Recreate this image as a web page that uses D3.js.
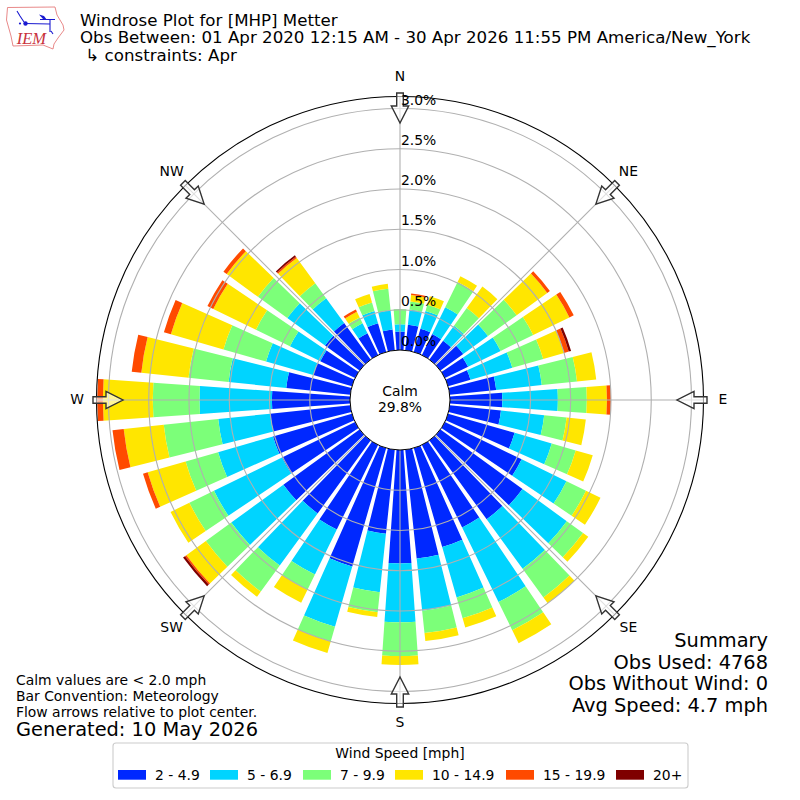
<!DOCTYPE html>
<html>
<head>
<meta charset="utf-8">
<style>
  html, body { margin: 0; padding: 0; background: #fff; }
  text { font-family: "DejaVu Sans", sans-serif; fill: #000; }
</style>
</head>
<body>
<div id="chart"></div>
<script src="https://cdn.jsdelivr.net/npm/d3@7"></script>
<script>
// percent of obs per direction, one list per speed bin
const directions = [10, 20, 30, 40, 50, 60, 70, 80, 90, 100, 110, 120, 130, 140, 150, 160, 170, 180,
  190, 200, 210, 220, 230, 240, 250, 260, 270, 280, 290, 300, 310, 320, 330, 340, 350, 360];
const bin2to5 = [.32, .30, .29, .29, .35, .32, .29, .58, .65, .64, .86, 1.06, 1.26, 1.21, 1.14, 1.28, 1.36, 1.41,
  1.05, 1.53, 1.17, 1.12, 1.17, 1.01, 1.02, 1.00, .97, .80, .50, .48, .53, .56, .30, .37, .26, .23];
const bin5to7 = [.19, .23, .37, .23, .38, .45, .54, .57, .69, .54, .48, .62, .68, .76, 1.03, .65, .65, .73,
  .73, .78, .62, .80, .80, .94, .71, .65, .90, .72, .61, .42, .58, .38, .14, .16, .24, .09];
const bin7to10 = [.10, .08, .35, .27, .44, .45, .40, .44, .36, .28, .31, .27, .25, .44, .39, .27, .28, .42,
  .25, .19, .21, .40, .39, .34, .42, .68, .58, .50, .55, .47, .45, .23, .08, .11, .27, .19];
const bin10to15 = [.08, .11, .08, .33, .47, .50, .27, .24, .25, .24, .22, .20, .08, .09, .18, .12, .10, .11,
  .06, .15, .18, .08, .30, .26, .49, .50, .62, .59, .68, .59, .48, .39, .08, .11, .06, 0];
const bin15to20 = [.02, 0, 0, 0, .04, .06, .06, 0, .05, 0, 0, 0, 0, 0, 0, 0, 0, 0,
  0, 0, 0, 0, .02, 0, .06, .14, .07, .12, .09, .08, .05, .02, .03, 0, 0, 0];
const bin20up = [0, 0, 0, 0, 0, 0, .03, 0, 0, 0, 0, 0, 0, 0, 0, 0, 0, 0,
  0, 0, 0, 0, .03, 0, 0, 0, 0, 0, 0, 0, 0, .02, 0, 0, 0, 0];

const binLabels = ["2 - 4.9", "5 - 6.9", "7 - 9.9", "10 - 14.9", "15 - 19.9", "20+"];
const binColors = ["#0028ff", "#00d4ff", "#7cff79", "#ffe600", "#ff4a00", "#7f0000"];
const rTicks = [0, 0.5, 1, 1.5, 2, 2.5, 3];
const compass = [["N", 0], ["NE", 45], ["E", 90], ["SE", 135], ["S", 180], ["SW", 225], ["W", 270], ["NW", 315]];

const titleLines = ["Windrose Plot for [MHP] Metter",
  "Obs Between: 01 Apr 2020 12:15 AM - 30 Apr 2026 11:55 PM America/New_York",
  " \u21B3 constraints: Apr"];
const noteLines = ["Calm values are < 2.0 mph", "Bar Convention: Meteorology", "Flow arrows relative to plot center."];
const summaryLines = ["Summary", "Obs Used: 4768", "Obs Without Wind: 0", "Avg Speed: 4.7 mph"];

const cx = 400, cy = 400;
const BAR_DEG = 8;

const svg = d3.select("#chart").append("svg")
  .attr("width", 800)
  .attr("height", 800)
  .style("display", "block");

const r = d3.scaleLinear().domain([0, 3]).range([50, 291.5]);
const outerR = 303.5;
const theta = d3.scaleLinear().domain([0, 360]).range([0, 2 * Math.PI]);

const g = svg.append("g").attr("transform", `translate(${cx},${cy})`);

// bars
const rows = directions.map((d, i) => ({
  dir: d, b0: bin2to5[i], b1: bin5to7[i], b2: bin7to10[i], b3: bin10to15[i], b4: bin15to20[i], b5: bin20up[i]
}));
const stacked = d3.stack().keys(["b0", "b1", "b2", "b3", "b4", "b5"])(rows);
const arc = d3.arc()
  .innerRadius(d => r(d[0]))
  .outerRadius(d => r(d[1]))
  .startAngle(d => theta(d.data.dir - BAR_DEG / 2))
  .endAngle(d => theta(d.data.dir + BAR_DEG / 2));

g.selectAll("g.bin")
  .data(stacked)
  .join("g")
  .attr("class", "bin")
  .attr("fill", (d, i) => binColors[i])
  .selectAll("path")
  .data(d => d.filter(p => p[1] > p[0]))
  .join("path")
  .attr("d", arc);

// grid
g.selectAll("circle.ring")
  .data(rTicks.slice(1))
  .join("circle")
  .attr("class", "ring")
  .attr("r", d => r(d))
  .attr("fill", "none")
  .attr("stroke", "#b0b0b0")
  .attr("stroke-width", 1.1);

g.selectAll("line.spoke")
  .data(compass)
  .join("line")
  .attr("class", "spoke")
  .attr("x1", d => r(0) * Math.sin(theta(d[1])))
  .attr("y1", d => -r(0) * Math.cos(theta(d[1])))
  .attr("x2", d => outerR * Math.sin(theta(d[1])))
  .attr("y2", d => -outerR * Math.cos(theta(d[1])))
  .attr("stroke", "#b0b0b0")
  .attr("stroke-width", 1.1);

g.append("circle")
  .attr("r", outerR)
  .attr("fill", "none")
  .attr("stroke", "#000")
  .attr("stroke-width", 1.1);

// hub
g.append("circle")
  .attr("r", r(0))
  .attr("fill", "#fff")
  .attr("stroke", "#000")
  .attr("stroke-width", 1);

// flow arrows, pointing at the center
const arrowPts = [[-3.3, -307], [3.3, -307], [3.3, -294], [8.7, -294], [0, -277], [-8.7, -294], [-3.3, -294]];
g.selectAll("polygon.flow")
  .data(compass)
  .join("polygon")
  .attr("class", "flow")
  .attr("points", arrowPts.join(" "))
  .attr("transform", d => `rotate(${d[1]})`)
  .attr("fill", "#fff")
  .attr("fill-opacity", 0.6)
  .attr("stroke", "#333")
  .attr("stroke-width", 1.4);

// radial labels
g.selectAll("text.rlabel")
  .data(rTicks)
  .join("text")
  .attr("class", "rlabel")
  .attr("x", 1)
  .attr("y", d => -r(d) - 4)
  .attr("font-size", 13.9)
  .text(d => d.toFixed(1) + "%");

// compass labels
g.selectAll("text.dir")
  .data(compass)
  .join("text")
  .attr("class", "dir")
  .attr("x", d => 323 * Math.sin(theta(d[1])))
  .attr("y", d => -323 * Math.cos(theta(d[1])) + 4)
  .attr("text-anchor", "middle")
  .attr("font-size", 13.9)
  .text(d => d[0]);

// calm label
g.append("text").attr("y", -4).attr("text-anchor", "middle").attr("font-size", 13.9).text("Calm");
g.append("text").attr("y", 12).attr("text-anchor", "middle").attr("font-size", 13.9).text("29.8%");

// header
svg.selectAll("text.title")
  .data(titleLines)
  .join("text")
  .attr("class", "title")
  .attr("x", 80)
  .attr("y", (d, i) => [25.5, 42.5, 61][i])
  .attr("font-size", 16.67)
  .style("white-space", "pre")
  .text(d => d);

// logo
const logo = svg.append("g").attr("transform", "translate(7,7)");
logo.append("path")
  .attr("d", "M0.5,0.5 L48,0 L50,8 L56,18 L57,23 L51,31 L47,37 L46,42 L36,38 L6,39 L4,29 L-0.5,13 Z")
  .attr("fill", "none")
  .attr("stroke", "#e57c7c")
  .attr("stroke-width", 0.9);
logo.append("path")
  .attr("d", "M10,4 L13,9 L17,15 M18,16.5 L43,17 M33,12.5 L48,12.5 M43,12.5 L43,25 M44,24 L46,27")
  .attr("fill", "none")
  .attr("stroke", "#1a1ad0")
  .attr("stroke-width", 1.1);
logo.append("path")
  .attr("d", "M32,7.5 L37,9 L40,13 L36,12 Z")
  .attr("fill", "#1a1ad0");
logo.append("circle").attr("cx", 18.5).attr("cy", 16.5).attr("r", 2.2).attr("fill", "#1a1ad0");
logo.append("circle").attr("cx", 13).attr("cy", 16.5).attr("r", 1.1).attr("fill", "#1a1ad0");
logo.append("text")
  .attr("x", 9.7).attr("y", 37)
  .attr("font-size", 16.5)
  .style("font-family", "'Liberation Serif', serif")
  .style("font-style", "italic")
  .style("fill", "#c8323c")
  .text("IEM");

// notes
svg.selectAll("text.note")
  .data(noteLines)
  .join("text")
  .attr("class", "note")
  .attr("x", 16)
  .attr("y", (d, i) => 685 + i * 16)
  .attr("font-size", 13.9)
  .text(d => d);
svg.append("text").attr("x", 16).attr("y", 736).attr("font-size", 19.4).text("Generated: 10 May 2026");

// summary
svg.selectAll("text.summary")
  .data(summaryLines)
  .join("text")
  .attr("class", "summary")
  .attr("x", 768)
  .attr("y", (d, i) => 647 + i * 21.7)
  .attr("text-anchor", "end")
  .attr("font-size", 19.4)
  .text(d => d);

// legend
const legend = svg.append("g");
legend.append("rect")
  .attr("x", 113).attr("y", 743)
  .attr("width", 575).attr("height", 45)
  .attr("rx", 3)
  .attr("fill", "#fff")
  .attr("stroke", "#ccc")
  .attr("stroke-width", 1.1);
legend.append("text")
  .attr("x", 400).attr("y", 758)
  .attr("text-anchor", "middle")
  .attr("font-size", 13.9)
  .text("Wind Speed [mph]");
const legendX = [118, 210, 303, 395, 506, 616];
const item = legend.selectAll("g.item")
  .data(binLabels)
  .join("g")
  .attr("class", "item")
  .attr("transform", (d, i) => `translate(${legendX[i]},770)`);
item.append("rect").attr("width", 28).attr("height", 9.7).attr("fill", (d, i) => binColors[i]);
item.append("text").attr("x", 37).attr("y", 9.5).attr("font-size", 13.9).text(d => d);
</script>
</body>
</html>
